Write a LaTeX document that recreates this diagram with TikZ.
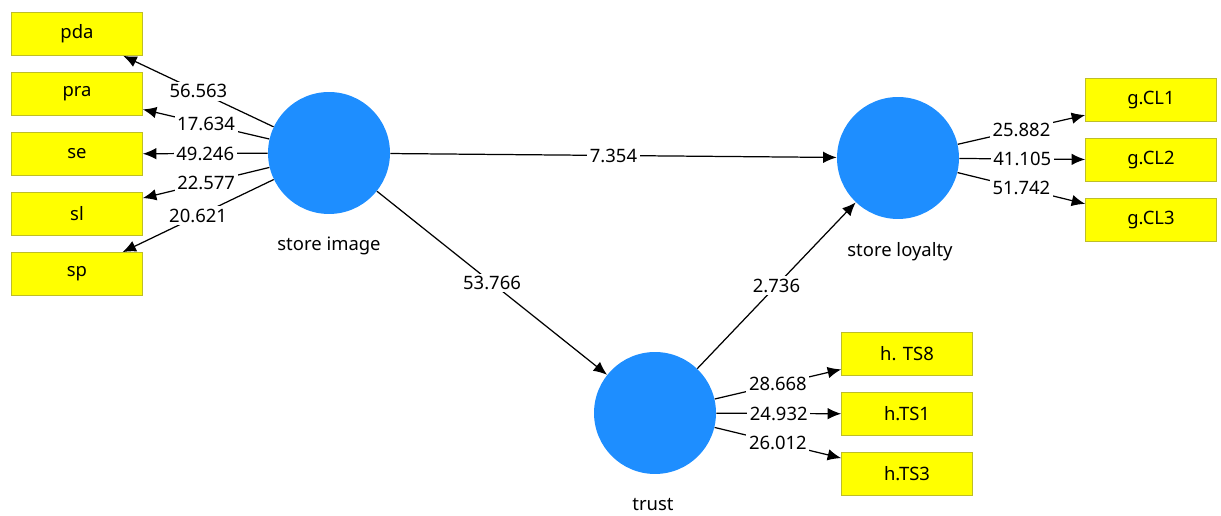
\documentclass[tikz,border=0pt]{standalone}
\usepackage{fontspec}
\setmainfont{Noto Sans}
\usetikzlibrary{arrows.meta}
\definecolor{lvblue}{RGB}{30,142,255}
\definecolor{mvyellow}{RGB}{255,255,0}
\definecolor{mvedge}{RGB}{190,190,40}

\begin{document}
\begin{tikzpicture}[x=0.02cm,y=-0.02cm,font=\fontsize{10.5}{12}\selectfont]
      \useasboundingbox (0,0) rectangle (1221,516);

      \begin{scope}[every node/.style={circle,fill=lvblue,minimum size=2.44cm,inner sep=0pt}]
        \node (si) at (329,153) {};
        \node (sl) at (898,158) {};
        \node (tr) at (655,413) {};
      \end{scope}

      \node (silab) at (329,246) {store image};
      \node (sllab) at (900,252) {store loyalty};
      \node (trlab) at (653,505) {trust};

      \begin{scope}[every node/.style={rectangle,draw=mvedge,fill=mvyellow,minimum width=2.62cm,minimum height=0.86cm}]
        \node (pda) at (77,34) {pda};
        \node (pra) at (77,94) {pra};
        \node (se) at (77,154) {se};
        \node (sli) at (77,214) {sl};
        \node (sp) at (77,274) {sp};
        \node (cl1) at (1151,100) {g.CL1};
        \node (cl2) at (1151,160) {g.CL2};
        \node (cl3) at (1151,220) {g.CL3};
        \node (ts8) at (907,354) {h. TS8};
        \node (ts1) at (907,414) {h.TS1};
        \node (ts3) at (907,474) {h.TS3};
      \end{scope}

      \begin{scope}[every node/.style={fill=white,inner sep=1.5pt}]

        \begin{scope}[every edge/.style={draw,line width=0.7pt,-{Latex[length=2.7mm,width=2.3mm]}}]
          \path (si) edge node {56.563} (pda);
          \path (si) edge node {17.634} (pra);
          \path (si) edge node {49.246} (se);
          \path (si) edge node {22.577} (sli);
          \path (si) edge node {20.621} (sp);
          \path (sl) edge node {25.882} (cl1);
          \path (sl) edge node {41.105} (cl2);
          \path (sl) edge node {51.742} (cl3);
          \path (tr) edge node {28.668} (ts8);
          \path (tr) edge node {24.932} (ts1);
          \path (tr) edge node {26.012} (ts3);
          \path (si) edge node {7.354} (sl);
          \path (si) edge node {53.766} (tr);
          \path (tr) edge node {2.736} (sl);
        \end{scope}

      \end{scope}

    \end{tikzpicture}
\end{document}
